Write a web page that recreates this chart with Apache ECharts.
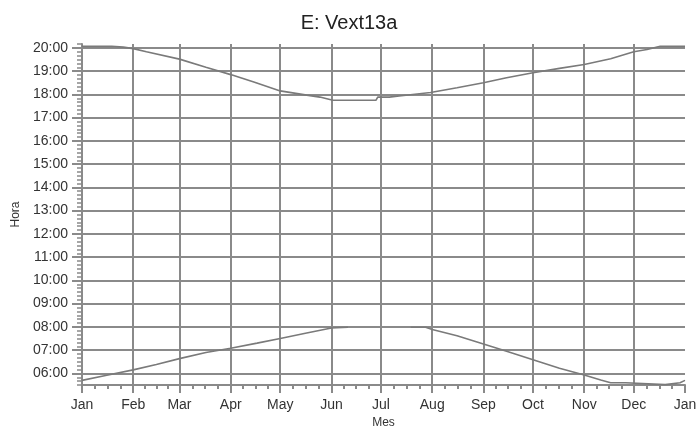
<!DOCTYPE html>
<html>
<head>
<meta charset="utf-8">
<script src="https://cdn.jsdelivr.net/npm/echarts@6/dist/echarts.min.js"></script>
<style>html,body{margin:0;padding:0;background:#fff;}#c{width:698px;height:429px;}</style>
</head>
<body>
<div id="c"></div>
<script>
// Month tick labels and their day-of-year positions (0 = Jan 1)
const monthLabels = ['Jan','Feb','Mar','Apr','May','Jun','Jul','Aug','Sep','Oct','Nov','Dec','Jan'];
const monthStartDays = [0,31,59,90,120,151,181,212,243,273,304,334,365];
// Hour tick labels
const yTickLabels = ['06:00','07:00','08:00','09:00','10:00','11:00','12:00','13:00','14:00','15:00','16:00','17:00','18:00','19:00','20:00'];
// Upper curve: [day of year, minutes after midnight]
const upperCurve = [[0,1204],[18,1204],[19,1202],[25,1202],[31,1198],[39,1190],[59,1171],[75,1150],[90,1131],[104,1112],[120,1089],[136,1078],[144,1073],[150,1067],[152,1065],[178,1065],[179,1073],[186,1073],[192,1076],[211,1085],[227,1097],[243,1110],[257,1123],[273,1136],[289,1147],[304,1157],[320,1172],[334,1190],[342,1196],[350,1204],[365,1204]];
// Lower curve, first part (Jan to mid-June)
const lowerCurveA = [[0,342],[15,355],[31,369],[45,383],[59,398],[75,414],[90,425],[106,438],[120,450],[136,464],[151,477],[161,479]];
// Lower curve, second part (mid-July to Dec)
const lowerCurveB = [[199,479],[208,479],[212,473],[227,457],[243,436],[257,417],[273,395],[289,373],[304,356],[314,343],[320,336],[329,336],[330,331],[353,331],[354,336],[362,336],[365,342]];

const toMin = s => parseInt(s.slice(0,2),10)*60 + parseInt(s.slice(3),10);
const yTicks = yTickLabels.map(toMin);
const fmt = v => { const h = Math.floor(v/60), m = Math.round(v%60); return (h<10?'0':'')+h+':'+(m<10?'0':'')+m; };
const Y_MIN = 330, Y_MAX = 1210;
const yMinor = []; for (let v = Y_MIN; v <= Y_MAX; v += 10) yMinor.push(v);
const xMinor = [];
for (let i = 0; i < monthStartDays.length - 1; i++) {
  const a = monthStartDays[i], b = monthStartDays[i+1];
  for (let k = 1; k < 4; k++) xMinor.push(a + (b - a) * k / 4);
}

const GRID = '#8a8a8a';
const LINE = '#7a7a7a';
const FONT = 'Liberation Sans';
const chart = echarts.init(document.getElementById('c'));
chart.setOption({
  animation: false,
  backgroundColor: '#fff',
  title: { text: 'E: Vext13a', left: 'center', top: 8,
    textStyle: { fontSize: 20, fontWeight: 'normal', color: '#222', fontFamily: FONT } },
  grid: { left: 82, right: 13, top: 44, bottom: 44, containLabel: false, outerBoundsMode: 'none' },
  xAxis: [{
    type: 'value', min: 0, max: 365, position: 'bottom',
    name: 'Mes', nameLocation: 'middle', nameGap: 28,
    nameTextStyle: { fontSize: 12, color: '#333', fontFamily: FONT },
    axisLine: { show: true, lineStyle: { color: GRID, width: 2 } },
    axisTick: { show: true, customValues: monthStartDays, length: 8, lineStyle: { color: GRID, width: 2 } },
    axisLabel: { customValues: monthStartDays, margin: 13, fontSize: 14, color: '#333', fontFamily: FONT,
      formatter: v => monthLabels[monthStartDays.indexOf(v)] },
    splitLine: { show: true, showMaxLine: false, lineStyle: { color: GRID, width: 2 } }
  }, {
    type: 'value', min: 0, max: 365, position: 'bottom', offset: 0,
    axisLine: { show: false },
    axisTick: { show: true, customValues: xMinor, length: 4, lineStyle: { color: GRID, width: 2 } },
    axisLabel: { show: false },
    splitLine: { show: false }
  }],
  yAxis: [{
    type: 'value', min: Y_MIN, max: Y_MAX, position: 'left',
    name: 'Hora', nameLocation: 'middle', nameGap: 51, nameRotate: 90,
    nameTextStyle: { fontSize: 12, color: '#333', fontFamily: FONT },
    axisLine: { show: true, lineStyle: { color: GRID, width: 2 } },
    axisTick: { show: true, customValues: yTicks, length: 10, lineStyle: { color: GRID, width: 2 } },
    axisLabel: { customValues: yTicks, margin: 14, fontSize: 14, color: '#333', fontFamily: FONT, formatter: fmt },
    splitLine: { show: true, lineStyle: { color: GRID, width: 2 } }
  }, {
    type: 'value', min: Y_MIN, max: Y_MAX, position: 'left', offset: 0,
    axisLine: { show: false },
    axisTick: { show: true, customValues: yMinor, length: 5, lineStyle: { color: GRID, width: 1.5 } },
    axisLabel: { show: false },
    splitLine: { show: false }
  }],
  series: [{
    type: 'line', xAxisIndex: 0, yAxisIndex: 0, data: upperCurve, showSymbol: false,
    lineStyle: { color: LINE, width: 1.6 }
  }, {
    type: 'line', xAxisIndex: 0, yAxisIndex: 0, data: lowerCurveA, showSymbol: false,
    lineStyle: { color: LINE, width: 1.6 }
  }, {
    type: 'line', xAxisIndex: 0, yAxisIndex: 0, data: lowerCurveB, showSymbol: false,
    lineStyle: { color: LINE, width: 1.6 }
  }]
});
</script>
</body>
</html>
